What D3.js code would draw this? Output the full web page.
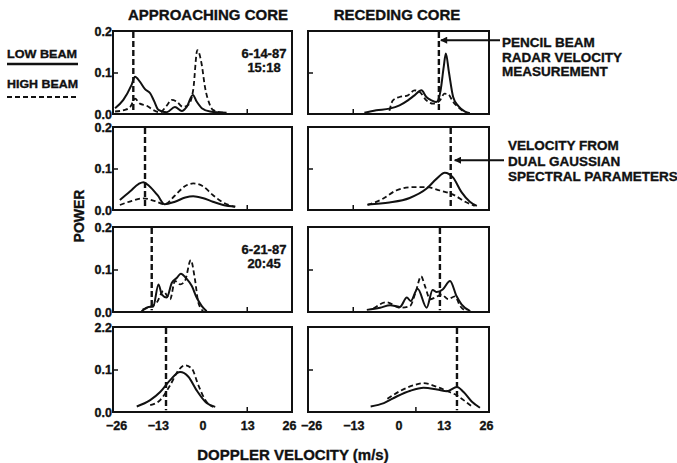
<!DOCTYPE html>
<html><head><meta charset="utf-8">
<script src="https://cdn.jsdelivr.net/npm/d3@7"></script>
<style>
html,body{margin:0;padding:0;background:#fff;}
svg{display:block;font-family:"Liberation Sans",Arial,Helvetica,sans-serif;font-weight:bold;}
svg text{stroke:#111;stroke-width:0.35px;}
</style></head>
<body><svg id="c" width="677" height="463"></svg>
<script>
// ---------- data ----------
const columns = ["APPROACHING CORE", "RECEDING CORE"];
const xTicks = [-26, -13, 0, 13, 26];
const yTicks = [0, 0.1, 0.2];
const yTickLabels = [["0.0","0.1","0.2"],["0.0","0.1","0.2"],["0.0","0.1","0.2"],["0.0","0.1","2.2"]];
const dates = [["6-14-87","15:18"], null, ["6-21-87","20:45"], null];
const legendLabels = ["LOW BEAM", "HIGH BEAM"];

// row 1: 6-14-87 measured spectra
const appr1Low  = [[-25.4,0.014],[-23,0.034],[-20.6,0.07],[-19.6,0.09],[-18.2,0.078],[-16.7,0.06],[-15.2,0.05],[-14.1,0.032],[-12.8,0.01],[-10.4,0.004],[-8,0.017],[-6,0.007],[-4.6,0.017],[-2.8,0.046],[-1.7,0.03],[-0.2,0.014],[2.2,0.006],[7,0.003]];
const appr1High = [[-25.4,0.006],[-22.5,0.01],[-21,0.017],[-19.6,0.037],[-18.2,0.025],[-16.2,0.02],[-14.4,0.01],[-12.4,0.004],[-10.4,0.02],[-9,0.034],[-7.5,0.03],[-5.7,0.017],[-4.1,0.022],[-2.7,0.058],[-1.5,0.154],[-0.2,0.118],[0.7,0.066],[2,0.025],[3,0.01],[6,0.003]];
const rec1Low   = [[-9.8,0.003],[-6.4,0.009],[-2.6,0.013],[0.3,0.021],[2.7,0.033],[4.6,0.045],[6.6,0.057],[8,0.041],[9.5,0.033],[10.9,0.029],[12.1,0.057],[13,0.114],[13.6,0.146],[14.5,0.1],[15.7,0.041],[17.2,0.019],[19.1,0.006],[20.5,0.002]];
const rec1High  = [[-2.6,0.008],[-1.6,0.033],[0.3,0.041],[2.7,0.045],[4.6,0.057],[6.1,0.053],[8,0.033],[10,0.025],[11.9,0.033],[13.2,0.049],[14.2,0.048],[15.7,0.029],[17.2,0.016],[18.7,0.006]];
// row 2: 6-14-87 dual gaussian fits
const appr2Low  = [[-24,0.024],[-21,0.045],[-18.5,0.063],[-17.2,0.067],[-15.5,0.058],[-13,0.035],[-11,0.014],[-8,0.02],[-5,0.03],[-2.7,0.033],[0,0.029],[3,0.02],[6,0.012],[9.5,0.008]];
const appr2High = [[-24,0.012],[-20.5,0.022],[-17.2,0.028],[-14,0.022],[-11,0.014],[-8,0.035],[-5,0.058],[-2.7,0.064],[0,0.058],[3,0.036],[6,0.018],[9.5,0.008]];
const rec2Low   = [[-8.9,0.013],[-2.6,0.018],[3.2,0.029],[8,0.051],[10.9,0.075],[13.3,0.09],[15.7,0.078],[18.1,0.043],[20.5,0.02],[22.5,0.01]];
const rec2High  = [[-8.9,0.012],[-4.5,0.027],[-0.7,0.047],[4.1,0.055],[8,0.055],[11.9,0.047],[15.7,0.037],[19.6,0.018],[21.9,0.01]];
// row 3: 6-21-87 measured spectra
const appr3Low  = [[-17.7,0.002],[-15.7,0.012],[-14.3,0.013],[-12.8,0.065],[-11.8,0.041],[-10.4,0.034],[-8.9,0.069],[-7.5,0.08],[-6.3,0.09],[-4.6,0.078],[-3.1,0.061],[-1.7,0.034],[-0.2,0.014],[1.2,0.002]];
const appr3High = [[-17.4,0.006],[-14.75,0.014],[-13.3,0.022],[-11.4,0.049],[-9.4,0.03],[-8,0.073],[-6.5,0.065],[-5.1,0.073],[-3.4,0.122],[-2.2,0.077],[-1.2,0.022],[0.2,0.002]];
const rec3Low   = [[-9.1,0.005],[-5.3,0.01],[-2.4,0.016],[0.4,0.012],[2.4,0.034],[3.5,0.026],[5.5,0.055],[8.1,0.01],[9.8,0.052],[11,0.047],[12.7,0.053],[14.8,0.073],[16.7,0.037],[18.1,0.018],[20.6,0.002]];
const rec3High  = [[-7.2,0.008],[-3.4,0.023],[0.4,0.01],[3.3,0.014],[5,0.049],[6.5,0.084],[7.6,0.061],[9.1,0.03],[10.5,0.034],[12.4,0.041],[14.3,0.03],[16.2,0.037],[17.7,0.014],[19.6,0.002]];
// row 4: 6-21-87 dual gaussian fits
const appr4Low  = [[-19.1,0.013],[-15.2,0.028],[-12.3,0.047],[-9.4,0.075],[-6.5,0.094],[-4.1,0.083],[-1.7,0.051],[1.2,0.021],[3.7,0.012]];
const appr4High = [[-15.2,0.016],[-12.3,0.028],[-9.4,0.063],[-7,0.098],[-5.1,0.11],[-3.1,0.102],[-1.2,0.063],[0.8,0.028],[3.1,0.012]];
const rec4Low   = [[-8,0.013],[-4.2,0.021],[-0.4,0.037],[3.4,0.05],[7.2,0.057],[11.1,0.053],[13.9,0.049],[16.8,0.059],[18.7,0.047],[21.1,0.024],[23.4,0.01]];
const rec4High  = [[-3.2,0.031],[0.6,0.05],[4.4,0.063],[7.2,0.068],[11.1,0.059],[14.1,0.049],[16.8,0.039],[18.7,0.028],[21.1,0.013]];

// vertical reference velocities (row order)
const refApproach = [-20.1, -16.7, -14.75, -10.6];
const refRecede   = [11.6, 15.0, 11.9, 16.8];
const bottomTicks = [[13,-13],[13,-13],[13,-13],[13,5]];

const annotPencil = ["PENCIL BEAM","RADAR VELOCITY","MEASUREMENT"];
const annotGauss  = ["VELOCITY FROM","DUAL GAUSSIAN","SPECTRAL PARAMETERS"];

const lowSeries  = [[appr1Low, rec1Low],[appr2Low, rec2Low],[appr3Low, rec3Low],[appr4Low, rec4Low]];
const highSeries = [[appr1High, rec1High],[appr2High, rec2High],[appr3High, rec3High],[appr4High, rec4High]];

// ---------- layout ----------
const svg = d3.select("#c");
const colX = [[113,292],[308,489]];
const rowY = [[31,114],[127,210],[227,312],[327,412]];
const INK = "#111";
const FONT = "Liberation Sans, Arial, sans-serif";

const xs = colX.map(c => d3.scaleLinear().domain([-26,26]).range(c));
const ys = rowY.map(r => d3.scaleLinear().domain([0,0.2]).range([r[1], r[0]]));

// column titles
columns.forEach((t,i) => {
  svg.append("text").attr("x", i===0 ? 208 : 397).attr("y", 20)
    .attr("text-anchor","middle").attr("font-size",15).attr("fill",INK).text(t);
});

// legend
svg.append("text").attr("x",7).attr("y",58).attr("font-size",11.5).attr("textLength",70).attr("lengthAdjust","spacingAndGlyphs").attr("fill",INK).text(legendLabels[0]);
svg.append("line").attr("x1",7).attr("x2",78).attr("y1",64).attr("y2",64).attr("stroke",INK).attr("stroke-width",2.5);
svg.append("text").attr("x",7).attr("y",88).attr("font-size",11.5).attr("textLength",71).attr("lengthAdjust","spacingAndGlyphs").attr("fill",INK).text(legendLabels[1]);
svg.append("line").attr("x1",7).attr("x2",78).attr("y1",97).attr("y2",97).attr("stroke",INK).attr("stroke-width",2.2).attr("stroke-dasharray","5,3");

const line = (x,y) => d3.line().x(d=>x(d[0])).y(d=>y(d[1])).curve(d3.curveMonotoneX);

for (let r=0; r<4; r++) {
  for (let c=0; c<2; c++) {
    const x = xs[c], y = ys[r];
    const g = svg.append("g");
    // y axis (inward tick at 0.1)
    const ya = g.append("g").attr("transform",`translate(${colX[c][0]},0)`)
      .call(d3.axisLeft(y).tickValues(yTicks).tickSizeInner(-5).tickSizeOuter(0)
        .tickFormat((d,i)=> c===0 ? yTickLabels[r][i] : ""));
    ya.select(".domain").remove();
    ya.selectAll(".tick line").attr("stroke",INK).attr("stroke-width",1.5)
      .attr("opacity",(d)=> d===0.1 ? 1 : 0);
    ya.selectAll(".tick text").attr("x",-1).attr("font-size",12.5).attr("font-weight","bold")
      .attr("font-family",FONT).attr("fill",INK);
    // bottom axis
    const xa = g.append("g").attr("transform",`translate(0,${rowY[r][1]})`)
      .call(d3.axisBottom(x).tickValues(r===3 ? xTicks : []).tickSizeInner(0).tickSizeOuter(0).tickPadding(9));
    xa.select(".domain").remove();
    xa.selectAll(".tick text").attr("font-size",12.5).attr("font-weight","bold")
      .attr("font-family",FONT).attr("fill",INK)
      .attr("dx",(d)=> d===-26 ? 3 : (d===26 ? -3 : 0));
    // small inward bottom tick
    g.append("line").attr("x1",x(bottomTicks[r][c])).attr("x2",x(bottomTicks[r][c]))
      .attr("y1",rowY[r][1]).attr("y2",rowY[r][1]-5).attr("stroke",INK).attr("stroke-width",1.5);
    // frame
    g.append("rect").attr("x",colX[c][0]).attr("y",rowY[r][0])
      .attr("width",colX[c][1]-colX[c][0]).attr("height",rowY[r][1]-rowY[r][0])
      .attr("fill","none").attr("stroke",INK).attr("stroke-width",2);
    // curves
    g.append("path").attr("d",line(x,y)(lowSeries[r][c])).attr("fill","none")
      .attr("stroke",INK).attr("stroke-width",2).attr("stroke-linejoin","round");
    g.append("path").attr("d",line(x,y)(highSeries[r][c])).attr("fill","none")
      .attr("stroke",INK).attr("stroke-width",1.8).attr("stroke-dasharray","5,3");
    // reference velocity line
    const v = c===0 ? refApproach[r] : refRecede[r];
    g.append("line").attr("x1",x(v)).attr("x2",x(v))
      .attr("y1",y(0.2)+1).attr("y2",y(0.004))
      .attr("stroke",INK).attr("stroke-width",2.4).attr("stroke-dasharray","6,3");
    // dates
    if (dates[r] && c===0) {
      dates[r].forEach((t,i)=>{
        g.append("text").attr("x",264).attr("y",y(0.2)+27+i*14).attr("text-anchor","middle")
          .attr("font-size",13).attr("fill",INK).text(t);
      });
    }
  }
}

// annotations with arrows
const defs = svg.append("defs");
defs.append("marker").attr("id","ah").attr("viewBox","0 0 10 10").attr("refX",9).attr("refY",5)
  .attr("markerWidth",9).attr("markerHeight",7).attr("markerUnits","userSpaceOnUse").attr("orient","auto")
  .append("path").attr("d","M0,0 L10,5 L0,10 Z").attr("fill",INK);

const aY1 = ys[0](0.178);
svg.append("line").attr("x1",500).attr("x2",xs[1](refRecede[0])+2).attr("y1",aY1).attr("y2",aY1)
  .attr("stroke",INK).attr("stroke-width",2).attr("marker-end","url(#ah)");
annotPencil.forEach((t,i)=> svg.append("text").attr("x",502).attr("y",aY1+7+i*14.5)
  .attr("font-size",13.5).attr("fill",INK).text(t));

const aY2 = ys[1](0.12);
svg.append("line").attr("x1",504).attr("x2",xs[1](refRecede[1])+4).attr("y1",aY2).attr("y2",aY2)
  .attr("stroke",INK).attr("stroke-width",2).attr("marker-end","url(#ah)");
annotGauss.forEach((t,i)=> svg.append("text").attr("x",508).attr("y",150+i*15.5)
  .attr("font-size",13.5).attr("fill",INK).text(t));

// axis titles
svg.append("text").attr("transform","translate(84,216) rotate(-90)").attr("text-anchor","middle")
  .attr("font-size",14).attr("fill",INK).text("POWER");
svg.append("text").attr("x",293).attr("y",460).attr("text-anchor","middle")
  .attr("font-size",15).attr("fill",INK).text("DOPPLER VELOCITY (m/s)");
</script></body></html>
